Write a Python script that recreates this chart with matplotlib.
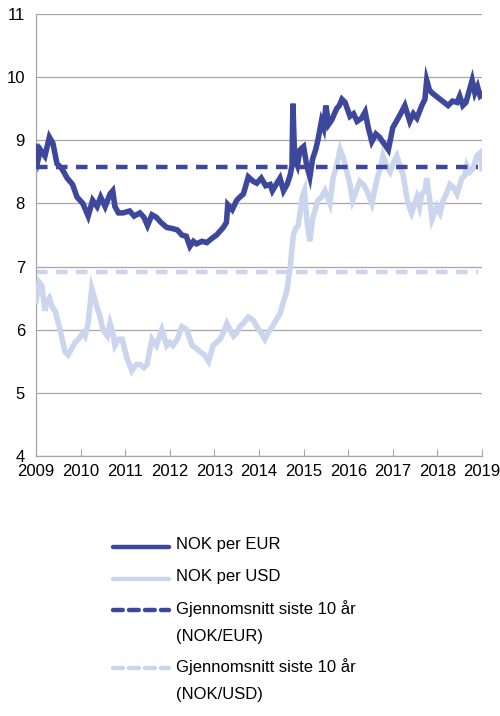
"""NOK exchange rates against EUR and USD, 2009-2019, with 10-year averages."""
import matplotlib
matplotlib.use("Agg")
import matplotlib.pyplot as plt
from matplotlib.lines import Line2D

plt.rcParams['font.family'] = ['Liberation Sans', 'DejaVu Sans']

# NOK per EUR (decimal year, rate)
eur_t = [2009.0, 2009.05, 2009.1, 2009.2, 2009.3, 2009.38, 2009.47, 2009.58, 2009.7,
         2009.82, 2009.92, 2010.05, 2010.17, 2010.27, 2010.37, 2010.45, 2010.55,
         2010.66, 2010.72, 2010.77, 2010.85, 2010.95, 2011.1, 2011.2, 2011.33,
         2011.42, 2011.5, 2011.6, 2011.7, 2011.8, 2011.93, 2012.07, 2012.17,
         2012.27, 2012.37, 2012.45, 2012.53, 2012.6, 2012.72, 2012.83, 2012.95,
         2013.05, 2013.2, 2013.27, 2013.3, 2013.4, 2013.5, 2013.57, 2013.65,
         2013.76, 2013.87, 2013.95, 2014.05, 2014.15, 2014.25, 2014.3, 2014.4,
         2014.47, 2014.55, 2014.63, 2014.7, 2014.74, 2014.76, 2014.8, 2014.86,
         2014.92, 2015.0, 2015.07, 2015.14, 2015.2, 2015.27, 2015.32, 2015.4,
         2015.45, 2015.5, 2015.56, 2015.63, 2015.74, 2015.8, 2015.86, 2015.93,
         2016.04, 2016.12, 2016.2, 2016.3, 2016.38, 2016.45, 2016.53, 2016.62,
         2016.7, 2016.8, 2016.9, 2017.0, 2017.08, 2017.16, 2017.27, 2017.38,
         2017.46, 2017.54, 2017.65, 2017.72, 2017.76, 2017.82, 2017.88, 2017.97,
         2018.06, 2018.15, 2018.24, 2018.34, 2018.44, 2018.5, 2018.57, 2018.64,
         2018.68, 2018.74, 2018.78, 2018.84, 2018.9, 2018.96, 2019.0]
eur_v = [8.9, 8.7, 8.85, 8.75, 9.05, 8.95, 8.63, 8.55, 8.4,
         8.3, 8.1, 8.0, 7.8, 8.05, 7.95, 8.1, 7.95,
         8.15, 8.2, 7.95, 7.85, 7.85, 7.88, 7.8, 7.85,
         7.78, 7.65, 7.82, 7.78, 7.7, 7.62, 7.6, 7.58,
         7.5, 7.48, 7.32, 7.4, 7.36, 7.4, 7.38, 7.45,
         7.5, 7.62, 7.7, 7.98, 7.9, 8.05, 8.1, 8.15,
         8.42, 8.35, 8.32, 8.4, 8.28, 8.3, 8.2, 8.32,
         8.4, 8.2, 8.3, 8.45, 8.6, 9.58, 8.7, 8.6,
         8.85, 8.9, 8.6, 8.42, 8.7, 8.85, 9.0, 9.3,
         9.2, 9.55, 9.25, 9.32, 9.5, 9.55, 9.65, 9.6,
         9.38, 9.42, 9.3, 9.35, 9.45, 9.2, 8.98, 9.1,
         9.05, 8.95, 8.85, 9.2, 9.3, 9.4, 9.55, 9.3,
         9.42, 9.35, 9.55, 9.65, 9.95, 9.8, 9.75, 9.7,
         9.65, 9.6, 9.55, 9.62, 9.6, 9.7, 9.55, 9.6,
         9.7, 9.85, 9.95, 9.75, 9.85, 9.7, 9.72]

# NOK per USD (decimal year, rate)
usd_t = [2009.0, 2009.07, 2009.13, 2009.2, 2009.25, 2009.3, 2009.37, 2009.43,
         2009.54, 2009.65, 2009.72, 2009.8, 2009.88, 2009.95, 2010.05, 2010.1,
         2010.17, 2010.25, 2010.31, 2010.37, 2010.44, 2010.5, 2010.6, 2010.66,
         2010.72, 2010.77, 2010.85, 2010.93, 2011.04, 2011.15, 2011.25, 2011.33,
         2011.42, 2011.49, 2011.6, 2011.7, 2011.82, 2011.93, 2012.0, 2012.07,
         2012.17, 2012.27, 2012.38, 2012.5, 2012.6, 2012.68, 2012.78, 2012.87,
         2012.97, 2013.05, 2013.13, 2013.2, 2013.28, 2013.35, 2013.43, 2013.5,
         2013.57, 2013.65, 2013.76, 2013.87, 2013.95, 2014.05, 2014.13, 2014.2,
         2014.3, 2014.38, 2014.47, 2014.55, 2014.62, 2014.7, 2014.77, 2014.82,
         2014.88, 2014.97, 2015.02, 2015.07, 2015.14, 2015.2, 2015.26, 2015.32,
         2015.4, 2015.48, 2015.59, 2015.66, 2015.74, 2015.82, 2015.9, 2015.97,
         2016.04, 2016.1, 2016.18, 2016.26, 2016.34, 2016.42, 2016.53, 2016.65,
         2016.72, 2016.78, 2016.86, 2016.94, 2017.02, 2017.09, 2017.16, 2017.23,
         2017.34, 2017.42, 2017.54, 2017.6, 2017.65, 2017.72, 2017.76, 2017.82,
         2017.88, 2017.99, 2018.06, 2018.13, 2018.2, 2018.28, 2018.36, 2018.44,
         2018.55, 2018.62, 2018.66, 2018.73, 2018.8, 2018.88, 2018.96, 2019.0]
usd_v = [6.45, 6.75, 6.7, 6.3, 6.45, 6.5, 6.35, 6.3,
         6.0, 5.65, 5.6, 5.7, 5.8, 5.85, 5.95, 5.9,
         6.1, 6.65, 6.5, 6.35, 6.2, 6.0, 5.9, 6.1,
         5.95, 5.75, 5.85, 5.85, 5.55, 5.35, 5.45, 5.45,
         5.4, 5.45, 5.85, 5.75, 6.0, 5.75, 5.8, 5.75,
         5.85, 6.05, 6.0, 5.75, 5.7, 5.65, 5.6, 5.5,
         5.75, 5.8, 5.85, 5.95, 6.1, 6.0, 5.9, 5.95,
         6.05, 6.1, 6.2, 6.15, 6.05, 5.95, 5.85, 5.95,
         6.05, 6.15, 6.25, 6.45, 6.6, 7.0, 7.5, 7.6,
         7.65, 8.1, 8.2, 7.75, 7.4, 7.75, 7.9, 8.05,
         8.1, 8.2, 8.0, 8.4, 8.6, 8.85, 8.7, 8.5,
         8.3, 8.05, 8.2, 8.35, 8.3, 8.2, 8.0, 8.4,
         8.55, 8.75, 8.6, 8.5, 8.65, 8.75, 8.6, 8.45,
         8.0, 7.85, 8.1, 7.95, 8.15, 8.2, 8.4, 8.1,
         7.75, 7.95, 7.85, 8.05, 8.15, 8.3, 8.25, 8.15,
         8.4, 8.45, 8.6, 8.5, 8.55, 8.75, 8.8, 8.55]

eur_avg = 8.57
usd_avg = 6.91
avg_span = [2009.0, 2018.9]

dark = '#3d479c'
light = '#cbd6ee'
grid_col = '#a6a6a6'

fig = plt.figure(figsize=(5, 7.16), dpi=100)
ax = fig.add_axes([36 / 500, 1 - 456 / 716, 446 / 500, 442 / 716])

ax.plot(usd_t, usd_v, color=light, lw=4, solid_joinstyle='miter', zorder=3)
ax.plot(eur_t, eur_v, color=dark, lw=4, solid_joinstyle='miter', zorder=4)
ax.plot(avg_span, [eur_avg] * 2, color=dark, lw=3.2, dashes=(2.6, 1.9), zorder=5)
ax.plot(avg_span, [usd_avg] * 2, color=light, lw=3.2, dashes=(2.6, 1.9), zorder=2)

ax.set_xlim(2009, 2019)
ax.set_ylim(4, 11)
ax.set_xticks(range(2009, 2020))
ax.set_yticks(range(4, 12))
ax.yaxis.grid(True, color=grid_col, lw=0.9)
ax.set_axisbelow(True)
for s in ['top', 'right']:
    ax.spines[s].set_visible(False)
for s in ['left', 'bottom']:
    ax.spines[s].set_color(grid_col)
    ax.spines[s].set_linewidth(0.9)
ax.tick_params(axis='x', direction='in', length=5, color=grid_col, labelsize=12, pad=6)
ax.tick_params(axis='y', length=0, labelsize=12, pad=8)

# legend drawn below the axes, handle aligned with first text line
entries = [
    (547, dark, None, 'NOK per EUR'),
    (579, light, None, 'NOK per USD'),
    (610, dark, (2.2, 1.4), 'Gjennomsnitt siste 10 år\n(NOK/EUR)'),
    (668, light, (2.2, 1.4), 'Gjennomsnitt siste 10 år\n(NOK/USD)'),
]
for y, col, dash, label in entries:
    yf = 1 - y / 716
    ln = Line2D([113 / 500, 169 / 500], [yf, yf], transform=fig.transFigure,
                color=col, lw=3.2, solid_capstyle='round', dash_capstyle='round')
    if dash:
        ln.set_dashes(dash)
    fig.add_artist(ln)
    fig.text(176 / 500, yf + 10 / 716, label, fontsize=12, va='top', ha='left',
             linespacing=2.0)

fig.savefig('out.png', dpi=100)
